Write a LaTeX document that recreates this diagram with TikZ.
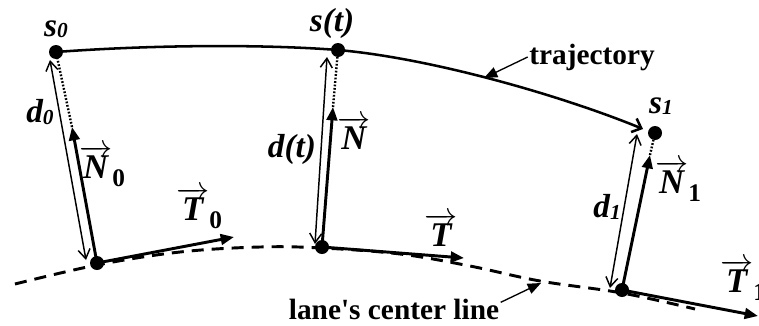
\documentclass[tikz,border=0pt]{standalone}
\usepackage{fontspec}
\setmainfont{Liberation Serif}
\usetikzlibrary{arrows.meta,calc}
\newcommand{\vecl}[1]{$\overrightarrow{\mbox{#1}}$}
\begin{document}
\begin{tikzpicture}[x=0.75pt,y=-0.75pt,
  dot/.style={circle,fill=black,inner sep=0pt,minimum size=10.5pt},
  vecarrow/.style={line width=2.2pt,-{Triangle[length=10pt,width=8pt]}},
  dist/.style={line width=1.1pt,{Straight Barb[length=7pt,width=9pt]}-{Straight Barb[length=7pt,width=9pt]}},
  dotline/.style={line width=1.8pt,dash pattern=on 1.3pt off 1.3pt},
  traj/.style={line width=1.9pt,-{Straight Barb[length=6pt,width=11pt]}},
  centerline/.style={line width=2.2pt,dash pattern=on 9pt off 6pt},
  lblarrow/.style={line width=1pt,-{Triangle[length=10pt,width=8pt]}},
  lbl/.style={font=\fontsize{25}{28}\selectfont\bfseries\itshape,inner sep=1pt},
  veclbl/.style={font=\fontsize{26}{29}\selectfont\bfseries\itshape,inner sep=1pt},
  txt/.style={font=\fontsize{22}{26}\selectfont\bfseries,inner sep=1pt}]
\fill[white] (0,0) rectangle (759,325);
\useasboundingbox (0,0) rectangle (759,325);

% centre line
\draw[centerline] plot[smooth,tension=0.6] coordinates
  {(15,284) (97,265) (180,252) (260,247) (322,248) (400,254) (470,266) (540,281) (622,293) (695,309)};

% points
\node[dot] (s0) at (56,52) {};
\node[dot] (f0) at (97,263) {};
\node[dot] (st) at (338,50) {};
\node[dot] (ft) at (322,247) {};
\node[dot] (s1) at (655,133) {};
\node[dot] (f1) at (622,290) {};

% trajectory
\coordinate (s1e) at (643,129);
\draw[traj] (s0.center) .. controls (150,45) and (260,44) .. (st.center)
  .. controls (430,58) and (560,95) .. (s1e);

% normal vectors
\coordinate (n0) at (72,127);
\coordinate (nt) at (333,107);
\coordinate (n1) at (650,155);
\draw[vecarrow] (f0.center) -- (n0);
\draw[vecarrow] (ft.center) -- (nt);
\draw[vecarrow] (f1.center) -- (n1);
\draw[dotline] (n0) -- (s0.center);
\draw[dotline] (nt) -- (st.center);
\draw[dotline] (n1) -- (s1.center);

% tangent vectors
\coordinate (t0) at (234,237);
\coordinate (tt) at (464,258);
\coordinate (t1) at (758,316);
\draw[vecarrow] (f0.center) -- (t0);
\draw[vecarrow] (ft.center) -- (tt);
\draw[vecarrow] (f1.center) -- (t1);

% distances
\coordinate (d0a) at (86,260);
\coordinate (d0b) at (50,60);
\coordinate (dta) at (315,244);
\coordinate (dtb) at (327,57);
\coordinate (d1a) at (610,288);
\coordinate (d1b) at (637,134);
\draw[dist] (d0a) -- (d0b);
\draw[dist] (dta) -- (dtb);
\draw[dist] (d1a) -- (d1b);

% labels
\node[lbl] (ls0) at (56,29) {s\raisebox{-1pt}{\fontsize{16}{16}\selectfont 0}};
\node[lbl] (lst) at (332,23) {s(t)};
\node[lbl] (ls1) at (661,106) {s\raisebox{-1pt}{\fontsize{16}{16}\selectfont 1}};
\node[lbl] (ld0) at (40,112) {d\raisebox{-1pt}{\fontsize{16}{16}\selectfont 0}};
\node[lbl] (ldt) at (292,149) {d(t)};
\node[lbl] (ld1) at (607,207) {d\raisebox{-1pt}{\fontsize{16}{16}\selectfont 1}};
\node[veclbl] (ln0) at (102,166) {\vecl{N}\raisebox{-6pt}{\fontsize{19}{19}\selectfont\upshape 0}};
\node[veclbl] (lnt) at (354,133) {\vecl{N}};
\node[veclbl] (ln1) at (678,181) {\vecl{N}\raisebox{-6pt}{\fontsize{19}{19}\selectfont\upshape 1}};
\node[veclbl] (lt0) at (199,208) {\vecl{T}\raisebox{-6pt}{\fontsize{19}{19}\selectfont\upshape 0}};
\node[veclbl] (ltt) at (441,230) {\vecl{T}};
\node[veclbl] (lt1) at (743,280) {\vecl{T}\raisebox{-6pt}{\fontsize{19}{19}\selectfont\upshape 1}};

\node[txt] (trj) at (592,57) {trajectory};
\coordinate (trtip) at (484,78);
\draw[lblarrow] (trj.west) -- (trtip);
\node[txt] (lane) at (394,309) {lane\textquotesingle s center line};
\coordinate (lanetip) at (541,283);
\draw[lblarrow] ([yshift=5pt]lane.east) -- (lanetip);
\end{tikzpicture}
\end{document}
